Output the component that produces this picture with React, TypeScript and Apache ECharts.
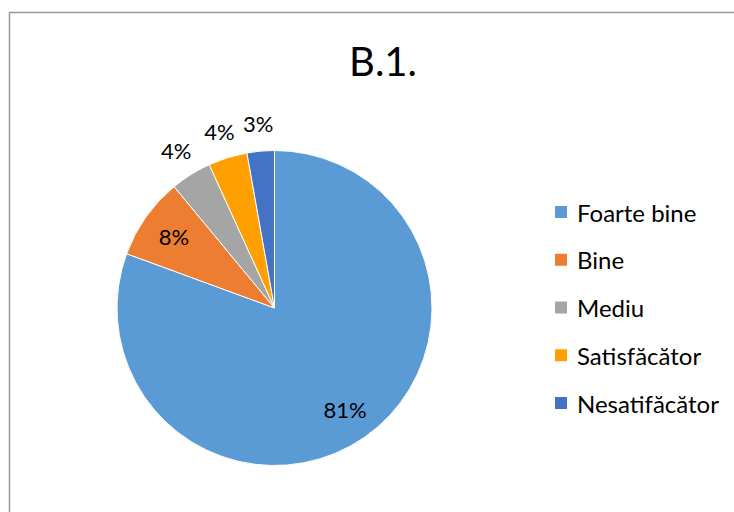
import React, { useEffect, useRef } from "react";
import * as echarts from "echarts";

const titleText = "B.1.";
const categories = ["Foarte bine", "Bine", "Mediu", "Satisfăcător", "Nesatifăcător"];
const values = [80.6, 8.4, 4.2, 4.0, 2.8];
const colors = ["#5B9BD5", "#ED7D31", "#A5A5A5", "#FFA000", "#4472C4"];
const insideLabelIdx = [0, 1];

const FONT = "Lato, 'Open Sans', sans-serif";

export default function App() {
  const ref = useRef<HTMLDivElement>(null);
  useEffect(() => {
    if (!ref.current) return;
    const chart = echarts.init(ref.current, undefined, { renderer: "svg" });
    const center = [274.5, 308];
    const R = 157.5;
    const fmt = (p: any) => Math.round(p.percent) + "%";
    const mainData = categories.map((n, i) => ({ name: n, value: values[i], itemStyle: { color: colors[i] } }));
    const innerData = categories.map((n, i) => ({
      name: n,
      value: values[i],
      label: { show: insideLabelIdx.includes(i) },
    }));
    const outerData = categories.map((n, i) => ({
      name: n,
      value: values[i],
      label: { show: !insideLabelIdx.includes(i) },
    }));
    const labelStyle = {
      position: "inside",
      formatter: fmt,
      color: "#000",
      fontSize: 22,
      fontFamily: FONT,
    };
    chart.setOption({
      animation: false,
      backgroundColor: "#fff",
      graphic: [
        {
          type: "rect",
          shape: { x: 9.5, y: 12.5, width: 800, height: 600 },
          style: { fill: "none", stroke: "#999", lineWidth: 1.5 },
          silent: true,
          z: -10,
        },
      ],
      title: {
        text: titleText,
        left: 378,
        textAlign: "center",
        top: 36,
        textStyle: { fontFamily: FONT, fontSize: 40, fontWeight: "normal", color: "#000" },
      },
      legend: {
        orient: "vertical",
        left: 553,
        top: 200,
        padding: 0,
        itemWidth: 14,
        itemHeight: 14,
        itemGap: 23.75,
        icon: "rect",
        data: categories,
        selectedMode: false,
        textStyle: { fontFamily: FONT, fontSize: 24, color: "#000", lineHeight: 24, padding: [0, 0, 0, 4] },
      },
      series: [
        {
          type: "pie",
          center,
          radius: [0, R],
          startAngle: 90,
          clockwise: true,
          avoidLabelOverlap: false,
          label: { show: false },
          labelLine: { show: false },
          itemStyle: { borderColor: "#fff", borderWidth: 1 },
          emphasis: { disabled: true },
          data: mainData,
        },
        {
          type: "pie",
          center,
          radius: [83, R],
          startAngle: 90,
          silent: true,
          avoidLabelOverlap: false,
          itemStyle: { color: "transparent" },
          label: labelStyle,
          labelLine: { show: false },
          emphasis: { disabled: true },
          data: innerData,
        },
        {
          type: "pie",
          center,
          radius: [R, 207],
          startAngle: 90,
          silent: true,
          avoidLabelOverlap: false,
          itemStyle: { color: "transparent" },
          label: labelStyle,
          labelLine: { show: false },
          emphasis: { disabled: true },
          data: outerData,
        },
      ],
    });
    return () => chart.dispose();
  }, []);
  return (
    <div
      ref={ref}
      style={{ position: "fixed", left: 0, top: 0, width: 734, height: 512 }}
    />
  );
}
